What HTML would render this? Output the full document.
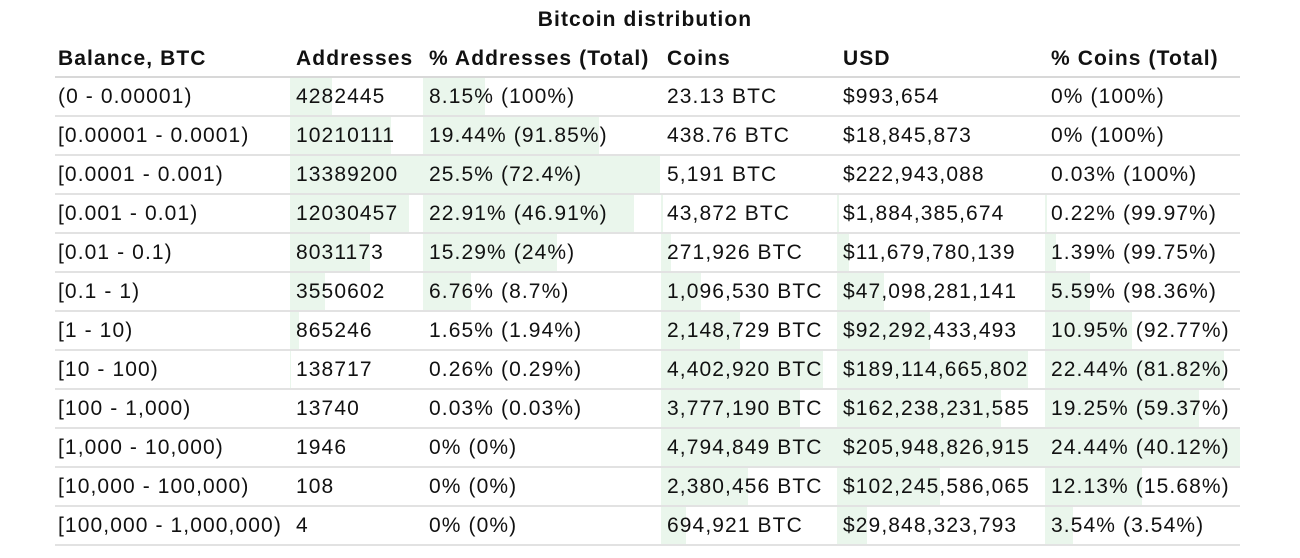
<!DOCTYPE html>
<html><head><meta charset="utf-8"><style>
body{margin:0;width:1300px;height:558px;background:#fff;font-family:"Liberation Sans",Arial,sans-serif;color:#111;overflow:hidden;position:relative;letter-spacing:1.1px}
.title{position:absolute;top:8px;left:0;width:1290px;text-align:center;font-weight:bold;font-size:21px}
table{position:absolute;left:55px;top:41px;border-collapse:collapse;table-layout:fixed;font-size:21px}
th{font-weight:bold;text-align:left;height:35px;padding:0 0 0 6px;border-bottom:2px solid #d8d8d8;white-space:nowrap;vertical-align:middle}
td{height:37px;padding:0 0 0 6px;border-bottom:2px solid #e2e2e2;position:relative;white-space:nowrap}
td span{position:relative}
td i{position:absolute;left:0;top:0;bottom:0;background:#eaf6ec}
th:first-child,td:first-child{padding-left:3px}
</style></head><body>
<div class="title">Bitcoin distribution</div>
<table>
<colgroup><col style="width:235px"><col style="width:133px"><col style="width:238px"><col style="width:176px"><col style="width:208px"><col style="width:195px"></colgroup>
<tr><th>Balance, BTC</th><th>Addresses</th><th>% Addresses (Total)</th><th>Coins</th><th>USD</th><th>% Coins (Total)</th></tr>
<tr><td>(0 - 0.00001)</td><td><i style="width:42px"></i><span>4282445</span></td><td><i style="width:62px"></i><span>8.15% (100%)</span></td><td><span>23.13 BTC</span></td><td><span>$993,654</span></td><td><span>0% (100%)</span></td></tr>
<tr><td>[0.00001 - 0.0001)</td><td><i style="width:101px"></i><span>10210111</span></td><td><i style="width:176px"></i><span>19.44% (91.85%)</span></td><td><span>438.76 BTC</span></td><td><span>$18,845,873</span></td><td><span>0% (100%)</span></td></tr>
<tr><td>[0.0001 - 0.001)</td><td><i style="width:133px"></i><span>13389200</span></td><td><i style="width:237px"></i><span>25.5% (72.4%)</span></td><td><span>5,191 BTC</span></td><td><span>$222,943,088</span></td><td><span>0.03% (100%)</span></td></tr>
<tr><td>[0.001 - 0.01)</td><td><i style="width:119px"></i><span>12030457</span></td><td><i style="width:211px"></i><span>22.91% (46.91%)</span></td><td><i style="width:2px"></i><span>43,872 BTC</span></td><td><i style="width:2px"></i><span>$1,884,385,674</span></td><td><i style="width:2px"></i><span>0.22% (99.97%)</span></td></tr>
<tr><td>[0.01 - 0.1)</td><td><i style="width:80px"></i><span>8031173</span></td><td><i style="width:134px"></i><span>15.29% (24%)</span></td><td><i style="width:10px"></i><span>271,926 BTC</span></td><td><i style="width:12px"></i><span>$11,679,780,139</span></td><td><i style="width:11px"></i><span>1.39% (99.75%)</span></td></tr>
<tr><td>[0.1 - 1)</td><td><i style="width:35px"></i><span>3550602</span></td><td><i style="width:48px"></i><span>6.76% (8.7%)</span></td><td><i style="width:40px"></i><span>1,096,530 BTC</span></td><td><i style="width:47px"></i><span>$47,098,281,141</span></td><td><i style="width:45px"></i><span>5.59% (98.36%)</span></td></tr>
<tr><td>[1 - 10)</td><td><i style="width:9px"></i><span>865246</span></td><td><span>1.65% (1.94%)</span></td><td><i style="width:79px"></i><span>2,148,729 BTC</span></td><td><i style="width:93px"></i><span>$92,292,433,493</span></td><td><i style="width:87px"></i><span>10.95% (92.77%)</span></td></tr>
<tr><td>[10 - 100)</td><td><i style="width:1px"></i><span>138717</span></td><td><span>0.26% (0.29%)</span></td><td><i style="width:162px"></i><span>4,402,920 BTC</span></td><td><i style="width:191px"></i><span>$189,114,665,802</span></td><td><i style="width:179px"></i><span>22.44% (81.82%)</span></td></tr>
<tr><td>[100 - 1,000)</td><td><span>13740</span></td><td><span>0.03% (0.03%)</span></td><td><i style="width:139px"></i><span>3,777,190 BTC</span></td><td><i style="width:164px"></i><span>$162,238,231,585</span></td><td><i style="width:154px"></i><span>19.25% (59.37%)</span></td></tr>
<tr><td>[1,000 - 10,000)</td><td><span>1946</span></td><td><span>0% (0%)</span></td><td><i style="width:176px"></i><span>4,794,849 BTC</span></td><td><i style="width:208px"></i><span>$205,948,826,915</span></td><td><i style="width:195px"></i><span>24.44% (40.12%)</span></td></tr>
<tr><td>[10,000 - 100,000)</td><td><span>108</span></td><td><span>0% (0%)</span></td><td><i style="width:87px"></i><span>2,380,456 BTC</span></td><td><i style="width:103px"></i><span>$102,245,586,065</span></td><td><i style="width:97px"></i><span>12.13% (15.68%)</span></td></tr>
<tr><td>[100,000 - 1,000,000)</td><td><span>4</span></td><td><span>0% (0%)</span></td><td><i style="width:25px"></i><span>694,921 BTC</span></td><td><i style="width:30px"></i><span>$29,848,323,793</span></td><td><i style="width:28px"></i><span>3.54% (3.54%)</span></td></tr>
</table>
</body></html>
